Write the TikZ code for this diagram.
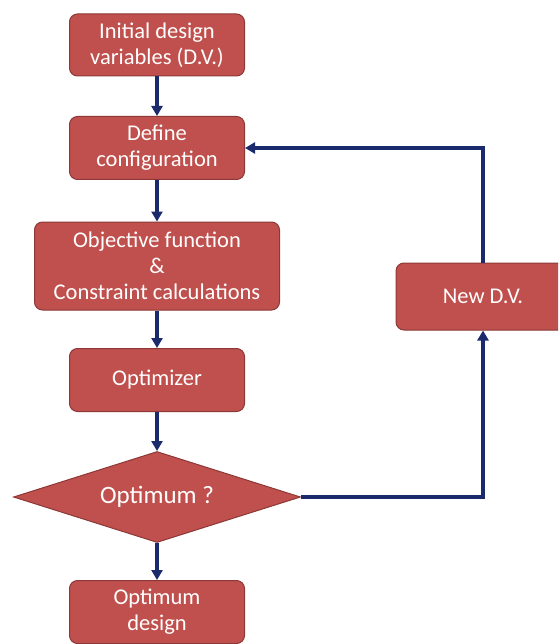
\documentclass[tikz,border=0pt]{standalone}
\usepackage{fontspec}
\setmainfont{Carlito}
\usetikzlibrary{shapes.geometric,arrows.meta}
\definecolor{boxfill}{HTML}{C0504D}
\definecolor{boxline}{HTML}{8C3836}
\definecolor{arrowc}{HTML}{1A2A6C}
\tikzset{
  stepbox/.style={draw=boxline, line width=1pt, fill=boxfill, rounded corners=8pt,
    text=white, font=\fontsize{22.5}{26}\selectfont, align=center, inner sep=0pt},
  decide/.style={diamond, draw=boxline, line width=1pt, fill=boxfill, text=white,
    font=\fontsize{25}{30}\selectfont, inner sep=0pt, aspect=3.15},
  conn/.style={draw=arrowc, line width=3.4pt, -{Triangle[length=10pt,width=11pt]}}
}
\begin{document}
\begin{tikzpicture}[x=1pt,y=-1pt]
\useasboundingbox (0,0) rectangle (558,644);
\clip (0,0) rectangle (558,644);
\node[stepbox, minimum width=175pt, minimum height=62pt] (init) at (157,45) {Initial design\\variables (D.V.)};
\node[stepbox, minimum width=175pt, minimum height=63pt] (conf) at (157,148) {Define\\configuration};
\node[stepbox, minimum width=245pt, minimum height=88pt] (obj) at (157,266) {Objective function\\\&\\Constraint calculations};
\node[stepbox, minimum width=175pt, minimum height=63pt] (opt) at (157,380) {Optimizer};
\node[decide, minimum width=287pt, minimum height=91pt] (dec) at (157,497) {Optimum ?};
\node[stepbox, minimum width=175pt, minimum height=63pt] (fin) at (157,612) {Optimum\\design};
\node[stepbox, minimum width=174pt, minimum height=67pt] (new) at (483,296.5) {New D.V.};
\draw[conn] (init) -- (conf);
\draw[conn] (conf) -- (obj);
\draw[conn] (obj) -- (opt);
\draw[conn] (opt) -- (dec);
\draw[conn] (dec) -- (fin);
\draw[conn] (dec.east) -| (new.south);
\draw[conn] (new.north) |- (conf.east);
\end{tikzpicture}
\end{document}
